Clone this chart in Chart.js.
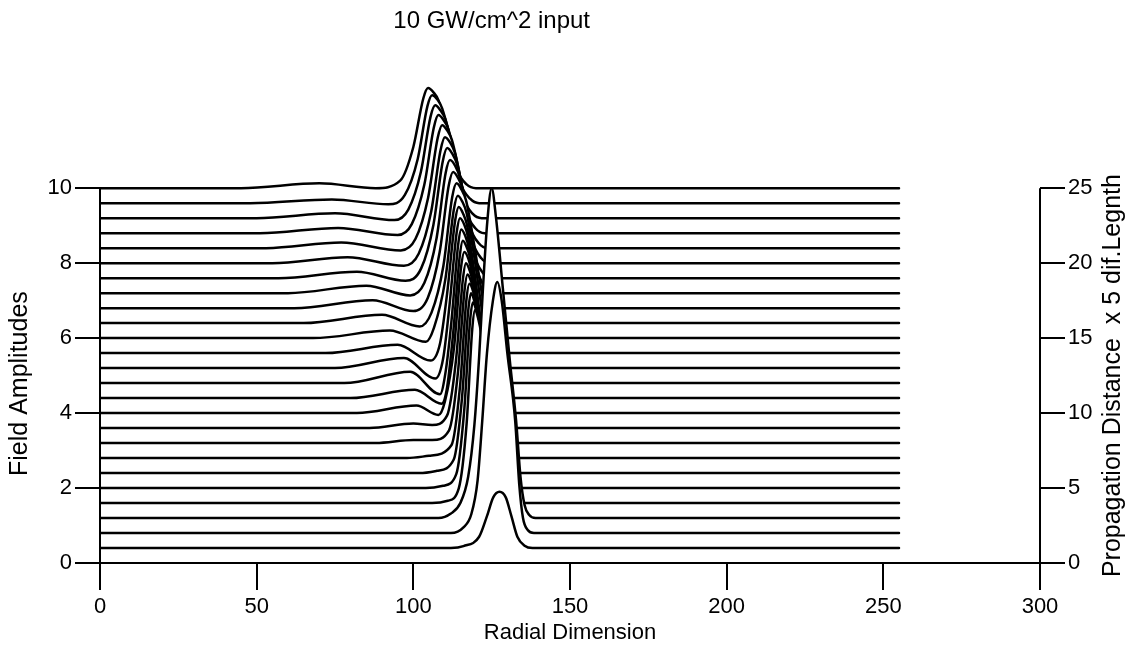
<!DOCTYPE html>
<html>
<head>
<meta charset="utf-8">
<script src="https://cdn.jsdelivr.net/npm/chart.js@4.4.0/dist/chart.umd.min.js"></script>
<style>
    html, body { margin: 0; padding: 0; background: #fff; }
</style>
</head>
<body>
<canvas id="waterfall" width="1127" height="654"></canvas>
<script>
// Waterfall of field amplitude profiles, one per propagation step
const chartTitle = '10 GW/cm^2 input';
const xTitle = 'Radial Dimension';
const yTitle = 'Field Amplitudes';
const y2Title = 'Propagation Distance  x 5 dif.Legnth';
const xTicks = [0, 50, 100, 150, 200, 250, 300];
const ampTicks = [0, 2, 4, 6, 8, 10];
const distTicks = [0, 5, 10, 15, 20, 25];
const distances = [1, 2, 3, 4, 5, 6, 7, 8, 9, 10, 11, 12, 13, 14, 15, 16, 17, 18, 19, 20, 21, 22, 23, 24, 25];

// [radial position, amplitude above the curve's own baseline]
const profile1 = [[0,0],[112,0],[116,0.05],[121,0.3],[123.5,0.85],[125.5,1.35],[127.5,1.5],[129.5,1.35],[131.3,0.85],[133.2,0.3],[135.5,0.06],[138,0],[255,0]];
const profile2 = [[0,0],[112,0],[116,0.15],[118.5,0.5],[120.5,1.4],[122,3.0],[123.5,4.8],[125.4,6.2],[126.8,6.7],[128.2,6.2],[130,4.8],[132.5,3.0],[133.8,1.3],[135,0.4],[136.5,0.08],[138.5,0],[255,0]];
const profile3 = [[0,0],[108,0],[112,0.12],[115,0.4],[117.5,1.1],[119.5,2.5],[121,4.3],[122.2,6.1],[123.6,7.9],[125,8.8],[126.4,8.0],[128.6,6.1],[130.8,4.2],[132.8,2.6],[134.2,1.1],[135.5,0.35],[137,0.08],[139,0],[255,0]];
const profile4 = [[0,0],[106,0],[111,0.06],[114.5,0.39],[117,2.11],[118.8,4.64],[119.7,5.15],[120.7,4.92],[121.6,4.53],[123.4,2.83],[125.1,0.93],[126.8,0.21],[128.6,0],[255,0]];
const profile5 = [[0,0],[104,0],[109.5,0.06],[113.7,0.37],[116.2,2.03],[118.1,4.46],[119,4.95],[120.1,4.73],[121,4.36],[122.8,2.72],[124.6,0.89],[126.4,0.2],[128.2,0],[255,0]];
const profile6 = [[0,0],[102,0],[107.5,0.06],[112.9,0.36],[115.5,1.97],[117.5,4.32],[118.4,4.8],[119.5,4.58],[120.4,4.22],[122.3,2.64],[124.2,0.86],[126,0.19],[127.9,0],[255,0]];
const profile7 = [[0,0],[98,0],[105,0.06],[112.2,0.35],[114.9,1.91],[116.9,4.19],[117.9,4.65],[119.1,4.44],[120,4.09],[121.9,2.56],[123.9,0.84],[125.8,0.19],[127.7,0],[255,0]];
const profile8 = [[0,0],[88,0],[100,0.08],[106,0.08],[111.4,0.34],[114.2,1.85],[116.3,4.05],[117.3,4.5],[118.5,4.3],[119.5,3.96],[121.5,2.48],[123.4,0.81],[125.4,0.18],[127.4,0],[255,0]];
const profile9 = [[0,0],[86,0],[100,0.12],[106,0.08],[110.75,0.33],[113.6,1.8],[115.8,3.96],[116.8,4.4],[118,4.2],[119,3.87],[121.1,2.42],[123.1,0.79],[125.2,0.18],[127.2,0],[255,0]];
const profile10 = [[0,0],[82,0],[101,0.2],[108,-0.05],[110.1,0.32],[113,1.76],[115.2,3.87],[116.3,4.3],[117.6,4.11],[118.6,3.78],[120.7,2.37],[122.8,0.77],[124.9,0.17],[127,0],[255,0]];
const profile11 = [[0,0],[80,0],[100.5,0.22],[109,-0.15],[110.8,0.3],[112.7,1.72],[114.8,3.78],[115.8,4.2],[117.1,4.01],[118.2,3.7],[120.3,2.31],[122.5,0.76],[124.7,0.17],[126.8,0],[255,0]];
const profile12 = [[0,0],[78,0],[99,0.3],[108.5,-0.3],[110.3,0.3],[112.2,1.68],[114.3,3.69],[115.3,4.1],[116.6,3.92],[117.7,3.61],[120,2.26],[122.2,0.74],[124.4,0.16],[126.6,0],[255,0]];
const profile13 = [[0,0],[75,0],[97,0.27],[107,-0.28],[109.5,0.25],[111.5,1.64],[113.8,3.6],[114.9,4.0],[116.3,3.82],[117.4,3.52],[119.8,2.2],[122.1,0.72],[124.4,0.16],[126.7,0],[255,0]];
const profile14 = [[0,0],[72,0],[95,0.22],[105.5,-0.2],[108.5,0.25],[110.8,1.6],[113.3,3.51],[114.5,3.9],[115.9,3.72],[117.1,3.43],[119.5,2.15],[121.9,0.7],[124.3,0.16],[126.7,0],[255,0]];
const profile15 = [[0,0],[68,0],[92.5,0.2],[104,-0.1],[106.6,0.28],[110.2,1.56],[112.9,3.42],[114.2,3.8],[115.7,3.63],[117,3.34],[119.6,2.09],[122.1,0.68],[124.7,0.15],[127.2,0],[255,0]];
const profile16 = [[0,0],[65,0],[90,0.22],[102,-0.09],[105.8,0.28],[109.6,1.53],[112.4,3.36],[113.8,3.73],[115.4,3.56],[116.8,3.28],[119.5,2.05],[122.2,0.67],[124.9,0.15],[127.6,0],[255,0]];
const profile17 = [[0,0],[62,0],[87,0.21],[100,-0.08],[104.6,0.27],[108.4,1.49],[111.3,3.27],[112.7,3.63],[114.3,3.47],[115.7,3.19],[118.4,2.0],[121.2,0.65],[123.9,0.15],[126.6,0],[255,0]];
const profile18 = [[0,0],[60,0],[85,0.2],[99,-0.06],[103.5,0.27],[107.4,1.46],[110.3,3.2],[111.7,3.55],[113.4,3.39],[114.7,3.12],[117.5,1.95],[120.3,0.64],[123,0.14],[125.8,0],[255,0]];
const profile19 = [[0,0],[57,0],[82,0.17],[97.5,-0.07],[102.5,0.26],[106.4,1.42],[109.4,3.12],[110.8,3.47],[112.5,3.31],[113.9,3.05],[116.7,1.91],[119.4,0.62],[122.2,0.14],[125,0],[255,0]];
const profile20 = [[0,0],[55,0],[79,0.16],[97,-0.07],[101.7,0.25],[105.7,1.38],[108.7,3.02],[110.1,3.36],[111.8,3.21],[113.2,2.96],[116,1.85],[118.8,0.6],[121.7,0.13],[124.5,0],[255,0]];
const profile21 = [[0,0],[53,0],[77,0.15],[96,-0.06],[100.7,0.25],[104.7,1.34],[107.8,2.95],[109.2,3.28],[110.9,3.13],[112.3,2.89],[115.2,1.8],[118,0.59],[120.9,0.13],[123.7,0],[255,0]];
const profile22 = [[0,0],[51,0],[76,0.14],[95,-0.05],[99.5,0.24],[103.5,1.29],[106.6,2.84],[108,3.15],[109.7,3.01],[111.2,2.77],[114,1.73],[116.9,0.57],[119.8,0.13],[122.7,0],[255,0]];
const profile23 = [[0,0],[50,0],[75,0.13],[94,-0.05],[98.4,0.23],[102.4,1.23],[105.5,2.71],[107,3.01],[108.7,2.87],[110.2,2.65],[113.1,1.66],[116,0.54],[118.9,0.12],[121.8,0],[255,0]];
const profile24 = [[0,0],[48,0],[74,0.1],[92,-0.03],[97.3,0.22],[101.4,1.18],[104.5,2.59],[106,2.88],[107.8,2.75],[109.2,2.53],[112.2,1.58],[115.1,0.52],[118.1,0.12],[121,0],[255,0]];
const profile25 = [[0,0],[45,0],[70,0.13],[88,0],[95.8,0.2],[100,1.1],[103.2,2.4],[104.7,2.67],[106.5,2.55],[108,2.35],[111,1.47],[114,0.48],[117,0.1],[120,0],[255,0]];

const profiles = [profile1, profile2, profile3, profile4, profile5, profile6, profile7, profile8, profile9, profile10,
    profile11, profile12, profile13, profile14, profile15, profile16, profile17, profile18, profile19, profile20,
    profile21, profile22, profile23, profile24, profile25];

const FONT = '"Liberation Sans", Arial, Helvetica, sans-serif';
Chart.defaults.font.family = FONT;
Chart.defaults.font.size = 22;
Chart.defaults.color = '#000';

// left axis 0..10 matches right axis 0..25
const ampTop = ampTicks[ampTicks.length - 1];
const distTop = distTicks[distTicks.length - 1];
const ampPerDist = ampTop / distTop;
const ampMax = 13.5; // headroom for the peaks above the last curve

// index 0 is the front curve; Chart.js draws it last, and the white fill
// under each curve hides the ones behind it
const datasets = distances.map(function (z, i) {
    return {
        data: profiles[i].map(p => ({ x: p[0], y: z * ampPerDist + p[1] })),
        borderColor: '#000',
        borderWidth: 2.5,
        backgroundColor: '#fff',
        fill: 'start',
        pointRadius: 0,
        cubicInterpolationMode: 'monotone',
        borderJoinStyle: 'round',
        borderCapStyle: 'round'
    };
});

const frame = {
    id: 'frame',
    afterDatasetsDraw(chart) {
        const ctx = chart.ctx;
        const x = chart.scales.x, y = chart.scales.y;
        ctx.save();
        ctx.strokeStyle = '#000';
        ctx.lineWidth = 2;
        ctx.beginPath();
        ctx.moveTo(x.left, y.getPixelForValue(0) + 1);
        ctx.lineTo(x.left, y.getPixelForValue(ampTop));
        ctx.moveTo(x.right, y.getPixelForValue(0) + 1);
        ctx.lineTo(x.right, y.getPixelForValue(ampTop));
        ctx.stroke();
        ctx.restore();
    },
    afterDraw(chart) {
        const ctx = chart.ctx;
        const x = chart.scales.x, y = chart.scales.y, y2 = chart.scales.y2;
        const midY = (y.getPixelForValue(0) + y.getPixelForValue(ampTop)) / 2;
        ctx.save();
        ctx.fillStyle = '#000';
        ctx.textAlign = 'center';
        ctx.textBaseline = 'middle';
        ctx.font = '24px ' + FONT;
        ctx.fillText(chartTitle, x.getPixelForValue(125), 21);

        ctx.font = '25px ' + FONT;
        ctx.save();
        ctx.translate(y.left + 20, midY + 8);
        ctx.rotate(-Math.PI / 2);
        ctx.fillText(yTitle, 0, 0);
        ctx.restore();

        ctx.translate(y2.right - 14, midY);
        ctx.rotate(-Math.PI / 2);
        ctx.fillText(y2Title, 0, 0);
        ctx.restore();
    }
};

const ctx = document.getElementById('waterfall').getContext('2d');
const chart = new Chart(ctx, {
    type: 'line',
    data: { datasets: datasets },
    options: {
        responsive: false,
        animation: false,
        devicePixelRatio: 1,
        layout: { padding: { top: 57, left: 0, right: 0, bottom: 0 } },
        plugins: {
            legend: { display: false },
            tooltip: { enabled: false }
        },
        scales: {
            x: {
                type: 'linear',
                min: xTicks[0],
                max: xTicks[xTicks.length - 1],
                afterBuildTicks: s => { s.ticks = xTicks.map(v => ({ value: v })); },
                afterFit: s => { s.height = 91; },
                grid: { drawOnChartArea: false, drawTicks: true, tickLength: 27, color: '#000', lineWidth: 2 },
                border: { display: true, color: '#000', width: 2, z: 1 },
                ticks: { padding: 4 },
                title: { display: true, text: xTitle, font: { size: 22 }, padding: { top: 0, bottom: 8 } }
            },
            y: {
                position: 'left',
                min: 0,
                max: ampMax,
                afterBuildTicks: s => { s.ticks = ampTicks.map(v => ({ value: v })); },
                afterFit: s => { s.width = 100; },
                grid: { drawOnChartArea: false, drawTicks: true, tickLength: 25, color: '#000', lineWidth: 2 },
                border: { display: false },
                ticks: { padding: 3 }
            },
            y2: {
                position: 'right',
                min: 0,
                max: ampMax / ampPerDist,
                afterBuildTicks: s => { s.ticks = distTicks.map(v => ({ value: v })); },
                afterFit: s => { s.width = 87; },
                grid: { drawOnChartArea: false, drawTicks: true, tickLength: 25, color: '#000', lineWidth: 2 },
                border: { display: false },
                ticks: { padding: 3 }
            }
        }
    },
    plugins: [frame]
});
</script>
</body>
</html>
